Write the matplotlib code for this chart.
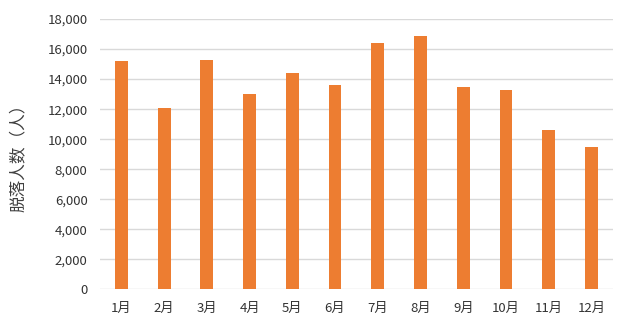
import matplotlib
matplotlib.use("Agg")
import matplotlib.pyplot as plt
from matplotlib.ticker import FuncFormatter

plt.rcParams["font.family"] = ["Noto Sans CJK SC", "DejaVu Sans"]

months = ["1月", "2月", "3月", "4月", "5月", "6月",
          "7月", "8月", "9月", "10月", "11月", "12月"]
dropouts = [15200, 12100, 15300, 13000, 14400, 13600,
            16400, 16900, 13500, 13300, 10600, 9500]

fig = plt.figure(figsize=(6.19, 3.23), dpi=100)
ax = fig.add_axes([0.1616, 0.104, 0.8284, 0.837])

x = range(len(months))
ax.bar(x, dropouts, width=0.3, color="#ED7D31", zorder=3)

ax.set_xlim(-0.5, len(months) - 0.5)
ax.set_ylim(0, 18000)
ax.set_yticks(range(0, 18001, 2000))
ax.yaxis.set_major_formatter(FuncFormatter(lambda v, p: f"{int(v):,}"))
ax.set_xticks(list(x))
ax.set_xticklabels(months)
ax.grid(axis="y", color="#D9D9D9", linewidth=1, zorder=0)
for s in ax.spines.values():
    s.set_visible(False)
ax.tick_params(length=0, labelsize=9.5, colors="#333333")
ax.tick_params(axis="y", pad=9)
ax.tick_params(axis="x", pad=9)
ax.set_ylabel("脱落人数（人）", fontsize=12, color="#404040", labelpad=15)

fig.savefig("out.png", dpi=100)
